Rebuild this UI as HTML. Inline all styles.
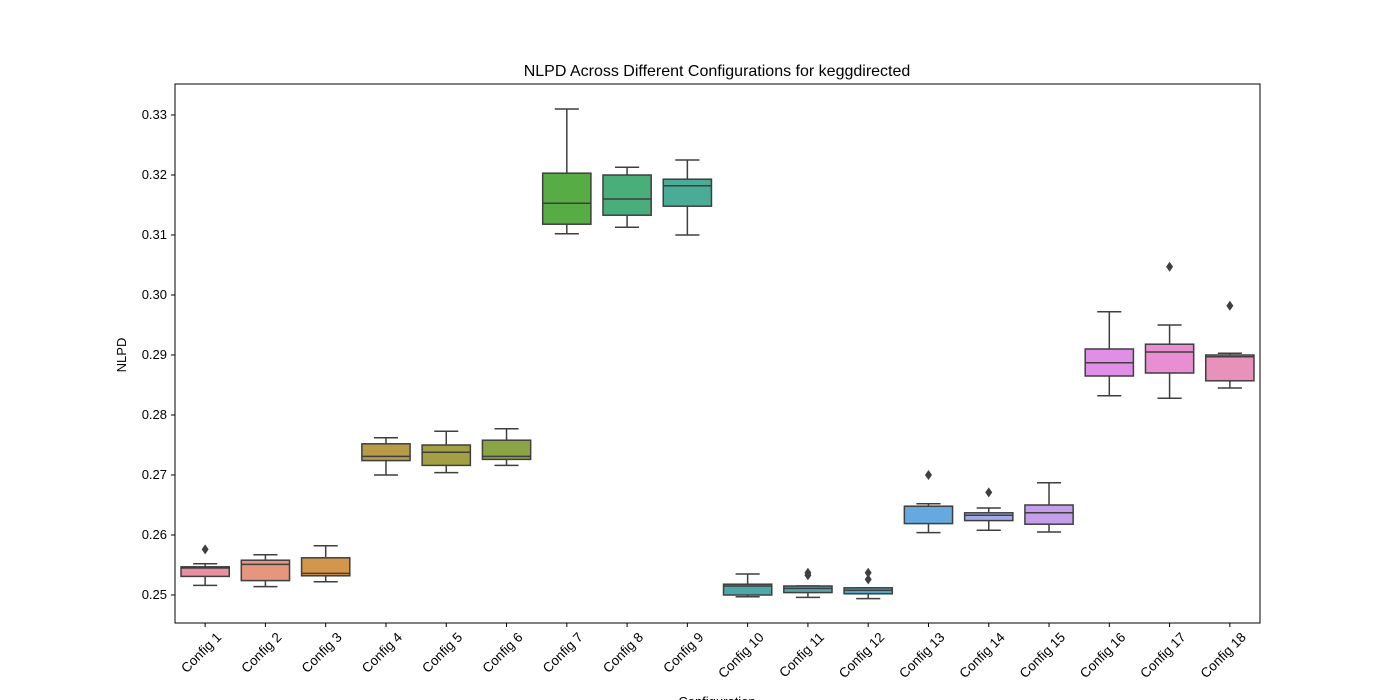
<!DOCTYPE html>
<html><head><meta charset="utf-8"><style>
body{margin:0;background:#fff;font-family:"Liberation Sans","DejaVu Sans",sans-serif}
svg{display:block}
</style></head><body>
<svg id="c" width="1400" height="700" font-family="Liberation Sans, DejaVu Sans, sans-serif">
<rect width="1400" height="700" fill="#fff"/>
<text x="717" y="76" text-anchor="middle" font-size="16">NLPD Across Different Configurations for keggdirected</text>
<text transform="translate(126,355) rotate(-90)" text-anchor="middle" font-size="13">NLPD</text>
<text x="717" y="706" text-anchor="middle" font-size="13">Configuration</text>
<g id="marks"></g>
<rect x="175" y="84" width="1085" height="539" fill="none" stroke="#000" stroke-width="1"/>
</svg>
<script>
const categories=["Config 1","Config 2","Config 3","Config 4","Config 5","Config 6","Config 7","Config 8","Config 9","Config 10","Config 11","Config 12","Config 13","Config 14","Config 15","Config 16","Config 17","Config 18"];
const whisLo=[0.2516,0.2514,0.2522,0.2700,0.2704,0.2716,0.3102,0.3113,0.3100,0.2497,0.2496,0.2494,0.2604,0.2608,0.2605,0.2832,0.2828,0.2845];
const q1=[0.2531,0.2524,0.2532,0.2724,0.2716,0.2726,0.3118,0.3133,0.3148,0.2500,0.2504,0.2502,0.2619,0.2624,0.2618,0.2865,0.2870,0.2857];
const med=[0.2545,0.2551,0.2536,0.2731,0.2738,0.2731,0.3153,0.3160,0.3182,0.2515,0.2511,0.2508,0.2648,0.2633,0.2637,0.2887,0.2905,0.2897];
const q3=[0.2547,0.2558,0.2562,0.2752,0.2750,0.2758,0.3203,0.3200,0.3193,0.2518,0.2515,0.2512,0.2648,0.2637,0.2650,0.2910,0.2918,0.2900];
const whisHi=[0.2552,0.2567,0.2582,0.2762,0.2773,0.2777,0.3310,0.3213,0.3225,0.2535,0.2515,0.2512,0.2652,0.2645,0.2687,0.2972,0.2950,0.2903];
const outliers=[[0.2576],[],[],[],[],[],[],[],[],[],[0.2533,0.2537],[0.2526,0.2537],[0.2700],[0.2671],[],[],[0.3047],[0.2982]];
const colors=["#e8909f","#e6957f","#d4964a","#b89b49","#a3a044","#8ca544","#58ac45","#4aae7a","#4aab96","#4ca9a7","#4da8b4","#4ea7c3","#66a9e0","#a5a9e8","#c49ee8","#e08ee6","#e88ed1","#e891bb"];
const yTicks=[0.25,0.26,0.27,0.28,0.29,0.30,0.31,0.32,0.33];
const NS="http://www.w3.org/2000/svg";
const L=175,R=1260,T=84,B=623;
const step=(R-L)/categories.length;
function xs(i){return L+step*(i+0.5);}
function ys(v){return 595-(v-0.25)*6000;}
const g=document.getElementById('marks');
function mk(t,a,p){const e=document.createElementNS(NS,t);for(const k in a)e.setAttribute(k,a[k]);(p||g).appendChild(e);return e;}
const st="#3f3f3f";
yTicks.forEach(v=>{
  const y=ys(v);
  const tk=mk('line',{x1:L-4,x2:L,y1:y,y2:y,stroke:'#000'});
  
  
  const t=mk('text',{x:L-8,y:y+4,'text-anchor':'end','font-size':13});
  t.textContent=v.toFixed(2);
  
  
});
categories.forEach((c,i)=>{
  const x=xs(i),w=step*0.8,cw=w/2;
  const grp=mk('g',{});
  
  
  mk('line',{x1:x,x2:x,y1:ys(q3[i]),y2:ys(whisHi[i]),stroke:st,'stroke-width':1.5},grp);
  mk('line',{x1:x,x2:x,y1:ys(q1[i]),y2:ys(whisLo[i]),stroke:st,'stroke-width':1.5},grp);
  mk('line',{x1:x-cw/2,x2:x+cw/2,y1:ys(whisHi[i]),y2:ys(whisHi[i]),stroke:st,'stroke-width':1.5},grp);
  mk('line',{x1:x-cw/2,x2:x+cw/2,y1:ys(whisLo[i]),y2:ys(whisLo[i]),stroke:st,'stroke-width':1.5},grp);
  mk('rect',{x:x-w/2,y:ys(q3[i]),width:w,height:Math.max(ys(q1[i])-ys(q3[i]),0.5),fill:colors[i],stroke:st,'stroke-width':1.5},grp);
  mk('line',{x1:x-w/2,x2:x+w/2,y1:ys(med[i]),y2:ys(med[i]),stroke:st,'stroke-width':1.5},grp);
  outliers[i].forEach(o=>{
    const y=ys(o);
    const d=mk('path',{d:`M${x},${y-5}L${x+3.5},${y}L${x},${y+5}L${x-3.5},${y}Z`,fill:st},grp);
    
    
  });
  mk('line',{x1:x,x2:x,y1:B,y2:B+4,stroke:'#000'});
  const t=mk('text',{transform:`translate(${x+17},${B+15}) rotate(-45)`,'text-anchor':'end','font-size':13.5});
  t.textContent=c;
  
  
});
</script>
</body></html>
